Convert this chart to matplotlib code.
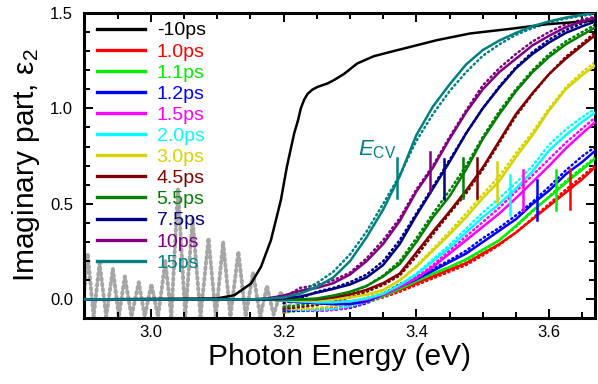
import matplotlib
matplotlib.use("Agg")
import matplotlib.pyplot as plt
from matplotlib.ticker import MultipleLocator, FormatStrFormatter

plt.rcParams['font.family'] = ['Liberation Sans', 'DejaVu Sans']
plt.rcParams['mathtext.fontset'] = 'custom'
plt.rcParams['mathtext.rm'] = 'Liberation Sans'
plt.rcParams['mathtext.it'] = 'Liberation Sans:italic'

# ---------------- data ----------------
labels = ['-10ps', '1.0ps', '1.1ps', '1.2ps', '1.5ps', '2.0ps', '3.0ps',
          '4.5ps', '5.5ps', '7.5ps', '10ps', '15ps']
colors = ['#000000', '#ff0000', '#00ee00', '#0000ff', '#ff00ff', '#00ffff',
          '#d4d400', '#800000', '#008000', '#000080', '#800080', '#008080']

# -10 ps (ground state) curve
E_blk = [2.90, 3.10, 3.126, 3.151, 3.166, 3.181, 3.196, 3.205, 3.216, 3.222,
         3.226, 3.231, 3.236, 3.243, 3.251, 3.266, 3.276, 3.291, 3.311, 3.336,
         3.366, 3.381, 3.431, 3.481, 3.546, 3.596, 3.67]
v_blk = [0.0, 0.005, 0.022, 0.083, 0.17, 0.31, 0.52, 0.694, 0.869, 0.94,
         1.0, 1.045, 1.075, 1.097, 1.112, 1.13, 1.148, 1.18, 1.235, 1.273,
         1.30, 1.313, 1.357, 1.392, 1.418, 1.44, 1.46]

# fitted curves (solid lines)
E_fit = [2.90, 3.10, 3.15, 3.175, 3.20, 3.225, 3.25, 3.275, 3.30, 3.325, 3.35,
         3.375, 3.40, 3.425, 3.45, 3.475, 3.50, 3.525, 3.55, 3.575, 3.60,
         3.625, 3.65, 3.67]
fit_1p0 = [0, 0, 0, 0, -0.005, -0.01, -0.015, -0.02, -0.015, 0.0, 0.02, 0.05,
           0.085, 0.12, 0.155, 0.19, 0.24, 0.29, 0.35, 0.42, 0.49, 0.56, 0.63, 0.695]
fit_1p1 = [0, 0, 0, 0, -0.005, -0.015, -0.02, -0.025, -0.02, -0.005, 0.02, 0.055,
           0.095, 0.135, 0.17, 0.21, 0.26, 0.31, 0.385, 0.465, 0.535, 0.61, 0.68, 0.74]
fit_1p2 = [0, 0, 0, 0, -0.005, -0.015, -0.02, -0.025, -0.025, -0.01, 0.025, 0.065,
           0.105, 0.15, 0.195, 0.24, 0.30, 0.36, 0.42, 0.50, 0.57, 0.655, 0.72, 0.78]
fit_1p5 = [0, 0, 0, 0, -0.005, -0.01, -0.015, -0.015, -0.01, 0.0, 0.025, 0.065,
           0.11, 0.17, 0.24, 0.31, 0.38, 0.45, 0.53, 0.615, 0.70, 0.79, 0.87, 0.93]
fit_2p0 = [0, 0, 0, 0, -0.005, -0.01, -0.015, -0.015, -0.01, 0.005, 0.03, 0.075,
           0.13, 0.20, 0.27, 0.35, 0.43, 0.50, 0.58, 0.67, 0.78, 0.86, 0.93, 0.98]
fit_3p0 = [0, 0, 0, 0, 0.0, -0.005, -0.005, 0.0, 0.01, 0.025, 0.05, 0.10,
           0.17, 0.255, 0.34, 0.43, 0.53, 0.62, 0.745, 0.86, 0.99, 1.10, 1.175, 1.225]
fit_4p5 = [0, 0, 0, 0, 0.0, 0.0, 0.0, 0.01, 0.025, 0.05, 0.085, 0.135,
           0.245, 0.355, 0.46, 0.57, 0.69, 0.83, 0.97, 1.08, 1.18, 1.26, 1.33, 1.385]
fit_5p5 = [0, 0, 0, 0, 0.0, 0.0, 0.005, 0.02, 0.04, 0.07, 0.12, 0.185,
           0.30, 0.43, 0.54, 0.68, 0.84, 0.97, 1.09, 1.19, 1.27, 1.335, 1.385, 1.425]
fit_7p5 = [0, 0, 0, 0, 0.005, 0.015, 0.035, 0.055, 0.078, 0.115, 0.18, 0.29,
           0.44, 0.58, 0.72, 0.87, 1.0, 1.11, 1.21, 1.285, 1.345, 1.395, 1.43, 1.455]
fit_10 = [0, 0, 0, 0.005, 0.02, 0.045, 0.06, 0.085, 0.13, 0.20, 0.29, 0.41,
          0.565, 0.69, 0.84, 0.98, 1.10, 1.19, 1.26, 1.33, 1.38, 1.425, 1.455, 1.475]
fit_15 = [0, 0, 0, 0.003, 0.01, 0.03, 0.065, 0.115, 0.20, 0.325, 0.47, 0.645,
          0.86, 1.01, 1.125, 1.23, 1.305, 1.355, 1.395, 1.43, 1.455, 1.475, 1.49, 1.50]
fits = [fit_1p0, fit_1p1, fit_1p2, fit_1p5, fit_2p0, fit_3p0, fit_4p5,
        fit_5p5, fit_7p5, fit_10, fit_15]

# measured data (dotted)
E_dat = [3.20, 3.225, 3.25, 3.275, 3.30, 3.325, 3.35, 3.375, 3.40, 3.425,
         3.45, 3.475, 3.50, 3.525, 3.55, 3.575, 3.60, 3.625, 3.65, 3.67]
dat_1p0 = [-0.07, -0.055, -0.05, -0.045, -0.035, -0.015, 0.01, 0.04, 0.075, 0.11,
           0.145, 0.18, 0.23, 0.285, 0.35, 0.425, 0.50, 0.575, 0.645, 0.705]
dat_1p1 = [-0.065, -0.06, -0.055, -0.05, -0.04, -0.02, 0.015, 0.05, 0.09, 0.13,
           0.165, 0.205, 0.255, 0.31, 0.38, 0.46, 0.54, 0.62, 0.69, 0.745]
dat_1p2 = [-0.06, -0.06, -0.06, -0.055, -0.045, -0.02, 0.03, 0.08, 0.12, 0.16,
           0.205, 0.255, 0.32, 0.375, 0.44, 0.51, 0.59, 0.675, 0.75, 0.80]
dat_1p5 = [-0.045, -0.055, -0.06, -0.055, -0.04, -0.015, 0.02, 0.065, 0.115, 0.18,
           0.255, 0.33, 0.405, 0.48, 0.565, 0.65, 0.735, 0.82, 0.895, 0.955]
dat_2p0 = [-0.05, -0.055, -0.055, -0.05, -0.035, -0.01, 0.025, 0.075, 0.135, 0.21,
           0.285, 0.37, 0.455, 0.53, 0.61, 0.70, 0.81, 0.89, 0.955, 1.0]
dat_3p0 = [-0.05, -0.05, -0.045, -0.035, -0.015, 0.01, 0.045, 0.10, 0.175, 0.265,
           0.355, 0.45, 0.55, 0.645, 0.765, 0.875, 1.0, 1.11, 1.19, 1.245]
dat_4p5 = [-0.05, -0.04, -0.03, -0.01, 0.01, 0.04, 0.075, 0.125, 0.225, 0.34,
           0.45, 0.555, 0.68, 0.82, 0.96, 1.075, 1.18, 1.27, 1.34, 1.40]
dat_5p5 = [-0.04, -0.03, -0.015, 0.01, 0.035, 0.07, 0.125, 0.20, 0.32, 0.45,
           0.57, 0.70, 0.85, 0.985, 1.10, 1.20, 1.285, 1.35, 1.40, 1.44]
dat_7p5 = [-0.02, 0.005, 0.04, 0.06, 0.09, 0.13, 0.20, 0.31, 0.45, 0.59,
           0.73, 0.87, 1.0, 1.115, 1.215, 1.295, 1.36, 1.41, 1.445, 1.47]
dat_10 = [0.01, 0.06, 0.075, 0.10, 0.14, 0.215, 0.31, 0.425, 0.575, 0.70,
          0.85, 0.99, 1.12, 1.21, 1.285, 1.35, 1.40, 1.44, 1.465, 1.48]
dat_15 = [0.0, 0.04, 0.085, 0.145, 0.235, 0.355, 0.50, 0.65, 0.83, 0.97,
          1.09, 1.19, 1.275, 1.335, 1.385, 1.42, 1.45, 1.47, 1.485, 1.495]
dats = [dat_1p0, dat_1p1, dat_1p2, dat_1p5, dat_2p0, dat_3p0, dat_4p5,
        dat_5p5, dat_7p5, dat_10, dat_15]

# E_CV markers
ecv_E = [3.631, 3.610, 3.581, 3.561, 3.541, 3.521, 3.491, 3.470, 3.441, 3.420, 3.371]
ecv_v = [0.58, 0.572, 0.52, 0.572, 0.546, 0.615, 0.637, 0.637, 0.63, 0.665, 0.635]
ecv_half = 0.105

# noisy low-energy data (gray)
gray_E = [2.900, 2.905, 2.914, 2.923, 2.933, 2.943, 2.952, 2.961, 2.971, 2.982,
          2.991, 3.001, 3.011, 3.022, 3.031, 3.041, 3.052, 3.063, 3.075, 3.087,
          3.098, 3.109, 3.120, 3.132, 3.143, 3.154, 3.165, 3.175, 3.185, 3.196,
          3.205, 3.215, 3.222]
gray_v = [0.05, 0.24, -0.09, 0.19, -0.09, 0.16, -0.09, 0.12, -0.09, 0.09,
          -0.09, 0.08, -0.09, 0.20, -0.09, 0.58, -0.09, 0.42, -0.09, 0.32,
          -0.09, 0.30, -0.09, 0.25, -0.09, 0.14, -0.09, 0.07, -0.08, 0.04,
          -0.06, 0.01, -0.03]

# ---------------- plot ----------------
fig = plt.figure(figsize=(5.98, 3.84), dpi=100)
ax = fig.add_axes([0.141, 0.1706, 0.854, 0.796])

ax.plot(gray_E, gray_v, color='#a6a6a6', lw=2.8, ls=(0, (0.5, 0.9)),
        dash_capstyle='round', zorder=1)

for d, c in zip(dats, colors[1:]):
    ax.plot(E_dat, d, color=c, lw=1.8, ls=(0, (0.5, 1.4)),
            dash_capstyle='round', zorder=2)

ax.plot(E_blk, v_blk, color=colors[0], lw=1.8, label=labels[0], zorder=3)
for f, c, l in zip(fits, colors[1:], labels[1:]):
    ax.plot(E_fit, f, color=c, lw=1.8, label=l, zorder=3)

for e, v, c in zip(ecv_E, ecv_v, colors[1:]):
    ax.plot([e, e], [v - ecv_half, v + ecv_half], color=c, lw=1.8, zorder=4)

ax.text(3.312, 0.755, r'$E_{\rm CV}$', color='#008080', fontsize=16,
        ha='left', va='baseline')

ax.set_xlim(2.90, 3.669)
ax.set_ylim(-0.1, 1.5)
ax.xaxis.set_major_locator(MultipleLocator(0.2))
ax.xaxis.set_minor_locator(MultipleLocator(0.05))
ax.yaxis.set_major_locator(MultipleLocator(0.5))
ax.yaxis.set_minor_locator(MultipleLocator(0.1))
ax.xaxis.set_major_formatter(FormatStrFormatter('%.1f'))
ax.yaxis.set_major_formatter(FormatStrFormatter('%.1f'))

for s in ax.spines.values():
    s.set_linewidth(2.2)
ax.tick_params(which='both', direction='in', top=True, right=True, width=1.4)
ax.tick_params(which='major', length=6.5, labelsize=12)
ax.tick_params(axis='y', which='major', pad=8)
ax.tick_params(axis='x', which='major', pad=5)
ax.tick_params(which='minor', length=4)

ax.set_xlabel('Photon Energy (eV)', fontsize=21.5, labelpad=2)
ax.set_ylabel('Imaginary part, ε$_2$', fontsize=21.5, labelpad=6)

leg = ax.legend(loc='upper left', bbox_to_anchor=(0, 1.012), borderaxespad=0,
                borderpad=0.65, frameon=False, fontsize=14, handlelength=2.47,
                handletextpad=0.6, labelspacing=0.18, labelcolor='linecolor')
for h in leg.get_lines():
    h.set_linewidth(2.4)

fig.savefig('out.png', dpi=100)
